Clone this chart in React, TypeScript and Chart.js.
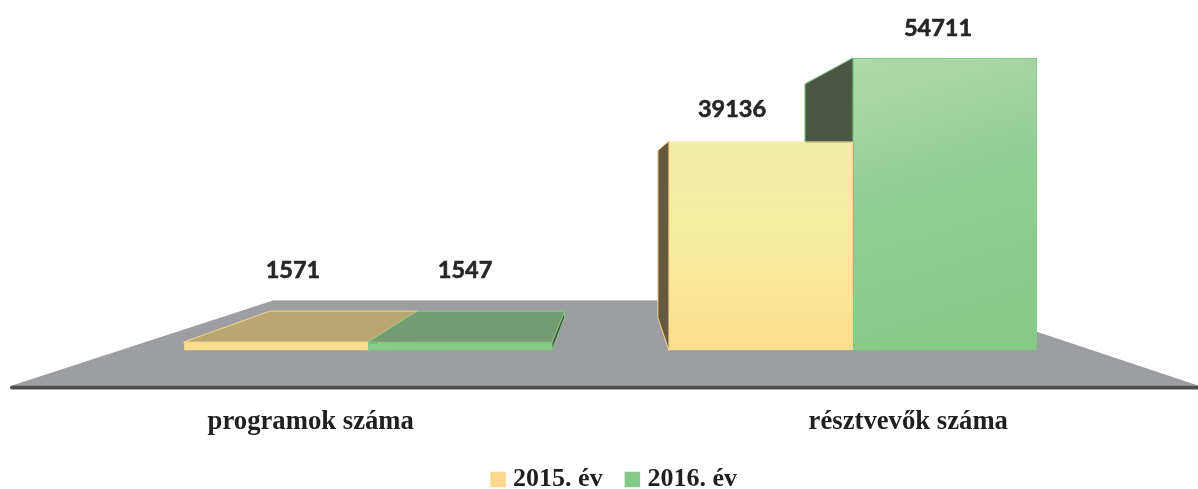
import React, { useEffect, useRef } from "react";
import { Chart, registerables } from "chart.js";

Chart.register(...registerables);

const categories = ["programok száma", "résztvevők száma"];
const seriesNames = ["2015. év", "2016. év"];
const values2015 = [1571, 39136];
const values2016 = [1547, 54711];

const SERIF = "'Liberation Serif', 'Times New Roman', serif";
const LABEL_FONT = "bold 23.5px Lato, sans-serif";
const VP = { x: 614, y: 188, k: 0.799 };
const labelShift = [
  [[17, -72], [5, -72]],
  [[-29, -32], [-7, -29.5]],
];
const categoryTickPlaces = [0.191, 0.807];
const looks = [
  { swatch: "#fdd98e", edge: "#fbd88a", side: "#665a3e", top: "#baa671", stops: ["#fedd8e", "#f6ef9f", "#f0efa9"] },
  { swatch: "#85c98a", edge: "#82c987", side: "#4b5644", top: "#749b72", stops: ["#85ca87", "#93cf94", "#b0d9a9"] },
];

const project = (x: number, y: number) => [VP.x + (x - VP.x) * VP.k, VP.y + (y - VP.y) * VP.k];

function quad(ctx: CanvasRenderingContext2D, pts: number[][], fill: string, stroke: string) {
  ctx.beginPath();
  pts.forEach((p, i) => (i ? ctx.lineTo(p[0], p[1]) : ctx.moveTo(p[0], p[1])));
  ctx.closePath();
  ctx.fillStyle = fill;
  ctx.fill();
  ctx.strokeStyle = stroke;
  ctx.lineWidth = 1;
  ctx.stroke();
}

const scenePlugin = {
  id: "scene",
  beforeDatasetsDraw(chart: any) {
    const { ctx, chartArea, width } = chart;
    const base = chartArea.bottom;
    const front = base + 35;
    const back = base - 50;
    ctx.save();
    ctx.beginPath();
    ctx.moveTo(12, front);
    ctx.lineTo(273, back);
    ctx.lineTo(943, back);
    ctx.lineTo(width, front);
    ctx.closePath();
    ctx.fillStyle = "#9d9ea1";
    ctx.fill();
    ctx.strokeStyle = "#c4c5c7";
    ctx.lineWidth = 1;
    ctx.beginPath();
    ctx.moveTo(273, back);
    ctx.lineTo(943, back);
    ctx.stroke();
    ctx.strokeStyle = "#4c4d4f";
    ctx.lineWidth = 4;
    ctx.lineCap = "round";
    ctx.beginPath();
    ctx.moveTo(12, front + 2);
    ctx.lineTo(width + 4, front + 2);
    ctx.stroke();
    chart.data.datasets.forEach((_: any, d: number) => {
      const look = looks[d];
      chart.getDatasetMeta(d).data.forEach((bar: any) => {
        const left = bar.x - bar.width / 2;
        const right = bar.x + bar.width / 2;
        const top = bar.y;
        const bottom = bar.base;
        if (right < VP.x) {
          quad(ctx, [[right, top], [right, bottom], project(right, bottom), project(right, top)], look.side, look.edge);
        }
        if (left > VP.x) {
          quad(ctx, [[left, top], [left, bottom], project(left, bottom), project(left, top)], look.side, look.edge);
        }
        if (top > VP.y) {
          quad(ctx, [[left, top], [right, top], project(right, top), project(left, top)], look.top, look.edge);
        }
      });
    });
    ctx.restore();
  },
  afterDatasetsDraw(chart: any) {
    const { ctx } = chart;
    ctx.save();
    ctx.font = LABEL_FONT;
    ctx.fillStyle = "#262626";
    ctx.strokeStyle = "#262626";
    ctx.lineWidth = 0.6;
    ctx.textAlign = "center";
    ctx.textBaseline = "middle";
    chart.data.datasets.forEach((ds: any, d: number) => {
      chart.getDatasetMeta(d).data.forEach((bar: any, i: number) => {
        const [dx, dy] = labelShift[i][d];
        ctx.fillText(String(ds.data[i]), bar.x + dx, bar.y + dy);
        ctx.strokeText(String(ds.data[i]), bar.x + dx, bar.y + dy);
      });
    });
    ctx.restore();
  },
};

function faceFill(d: number) {
  return (c: any) => {
    const { chart, dataIndex } = c;
    const area = chart.chartArea;
    if (!area) return looks[d].swatch;
    const y = chart.scales.y;
    const x = chart.scales.x.getPixelForValue(dataIndex);
    const maxOfSeries = Math.max(...chart.data.datasets[d].data);
    const topPx = y.getPixelForValue(maxOfSeries);
    const basePx = y.getPixelForValue(0);
    const g = d === 0
      ? chart.ctx.createLinearGradient(0, basePx, 0, topPx)
      : chart.ctx.createLinearGradient(x + 90, basePx, x, topPx);
    g.addColorStop(0, looks[d].stops[0]);
    g.addColorStop(0.55, looks[d].stops[1]);
    g.addColorStop(1, looks[d].stops[2]);
    return g;
  };
}

export default function App() {
  const ref = useRef<HTMLCanvasElement | null>(null);
  useEffect(() => {
    const chart = new Chart(ref.current as HTMLCanvasElement, {
      type: "bar",
      data: {
        labels: categories,
        datasets: [values2015, values2016].map((data, d) => ({
          label: seriesNames[d],
          data,
          backgroundColor: faceFill(d),
          borderColor: looks[d].edge,
          borderWidth: 1,
          barPercentage: 1,
          categoryPercentage: 0.759,
          xAxisID: "x",
          yAxisID: "y",
        })),
      },
      options: {
        animation: false,
        responsive: false,
        layout: { padding: { left: 35, right: 0, top: 29.8, bottom: -13.5 } },
        scales: {
          x: { display: false },
          xLabels: {
            type: "linear",
            position: "bottom",
            offset: false,
            min: 0,
            max: 1,
            grid: { display: false },
            border: { display: false },
            afterBuildTicks(s: any) {
              s.ticks = categoryTickPlaces.map((value) => ({ value }));
            },
            ticks: {
              padding: 48,
              autoSkip: false,
              maxRotation: 0,
              color: "#1f1f1f",
              font: { family: SERIF, weight: "bold", size: 26.7 },
              callback: (_v: any, i: number) => categories[i],
            },
            afterFit(s: any) { s.height = 88.25; },
          },
          y: {
            min: 0,
            max: 60000,
            grid: { display: false },
            border: { display: false },
            ticks: { display: false },
            afterFit(s: any) { s.width = 90.5; },
          },
          y1: {
            position: "right",
            min: 0,
            max: 60000,
            grid: { display: false },
            border: { display: false },
            ticks: { display: false },
            afterFit(s: any) { s.width = 102.5; },
          },
        },
        plugins: {
          tooltip: { enabled: false },
          legend: {
            position: "bottom",
            labels: {
              usePointStyle: true,
              pointStyle: "rect",
              boxWidth: 4,
              boxHeight: 15.5,
              padding: 27.75,
              color: "#1f1f1f",
              font: { family: SERIF, weight: "bold", size: 26 },
              generateLabels: (chart: any) =>
                chart.data.datasets.map((ds: any, i: number) => ({
                  text: ds.label,
                  fillStyle: looks[i].swatch,
                  strokeStyle: looks[i].swatch,
                  fontColor: "#1f1f1f",
                  lineWidth: 0,
                  pointStyle: "rect",
                  datasetIndex: i,
                })),
            },
          },
        },
      },
      plugins: [scenePlugin],
    } as any);
    return () => chart.destroy();
  }, []);
  return (
    <canvas
      ref={ref}
      width={1198}
      height={489}
      style={{ position: "absolute", left: 0, top: 0, display: "block" }}
    />
  );
}
